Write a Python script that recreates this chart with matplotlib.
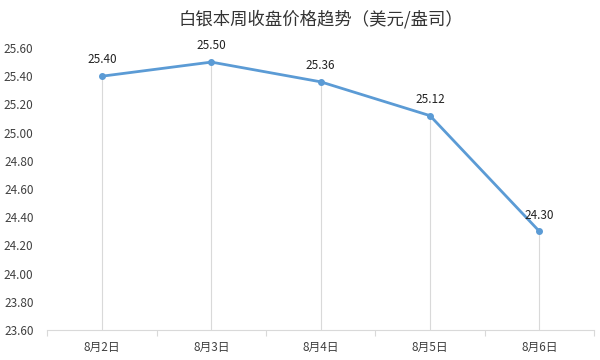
import matplotlib
matplotlib.use("Agg")
import matplotlib.pyplot as plt
from matplotlib.ticker import FixedLocator

plt.rcParams["font.family"] = ["Noto Sans CJK SC", "DejaVu Sans"]

dates = ["8月2日", "8月3日", "8月4日", "8月5日", "8月6日"]
prices = [25.40, 25.50, 25.36, 25.12, 24.30]
y_ticks = [23.60, 23.80, 24.00, 24.20, 24.40, 24.60, 24.80, 25.00, 25.20, 25.40, 25.60]

LINE_C = "#5b9bd5"
GRID_C = "#d9d9d9"
TEXT_C = "#404040"

fig = plt.figure(figsize=(6, 3.6), dpi=100)
ax = fig.add_axes([0.079, 0.0833, 0.911, 0.7834])

x = list(range(len(dates)))
ymin, ymax = y_ticks[0], y_ticks[-1]

# drop lines from each point to the axis
ax.vlines(x, ymin, prices, color=GRID_C, lw=0.8, zorder=1)
ax.plot(x, prices, color=LINE_C, lw=2, marker="o", ms=4, zorder=3)
for xi, v in zip(x, prices):
    ax.annotate(f"{v:.2f}", (xi, v), xytext=(0, 7), textcoords="offset points",
                ha="center", va="bottom", fontsize=8.5, color="#222222")

ax.set_xlim(-0.5, len(dates) - 0.5)
ax.set_ylim(ymin, ymax)
ax.set_xticks(x)
ax.set_xticklabels(dates)
ax.xaxis.set_minor_locator(FixedLocator([i - 0.5 for i in range(len(dates) + 1)]))
ax.tick_params(axis="x", which="major", length=0, pad=8, labelsize=8.5, labelcolor=TEXT_C)
ax.tick_params(axis="x", which="minor", length=4, color=GRID_C, width=0.8)
ax.set_yticks(y_ticks)
ax.set_yticklabels([f"{t:.2f}" for t in y_ticks])
ax.tick_params(axis="y", length=0, pad=10, labelsize=8.5, labelcolor=TEXT_C)

for s in ["top", "right", "left"]:
    ax.spines[s].set_visible(False)
ax.spines["bottom"].set_color(GRID_C)
ax.spines["bottom"].set_linewidth(0.8)

fig.text(0.535, 0.948, "白银本周收盘价格趋势（美元/盎司）", ha="center", va="center",
         fontsize=12.5, color="#333333")

fig.savefig("out.png", dpi=100)
